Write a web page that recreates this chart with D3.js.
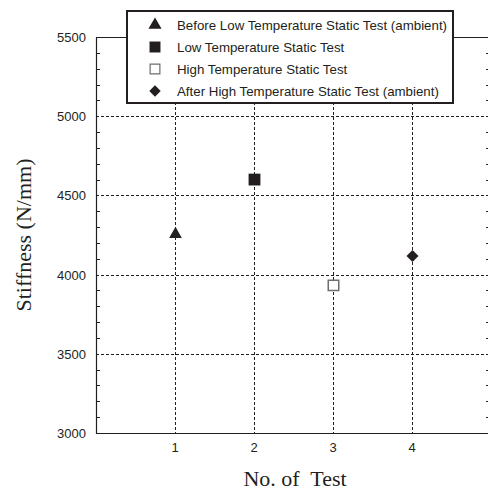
<!DOCTYPE html>
<html lang="en">
<head>
<meta charset="utf-8">
<title>Stiffness per test</title>
<script src="https://cdn.jsdelivr.net/npm/d3@7"></script>
<style>
  body { margin: 0; background: #fff; overflow: hidden; }
  .tick-label { font: 13px "Liberation Sans", Arial, sans-serif; fill: #231f20; }
  .legend text { font: 13.3px "Liberation Sans", Arial, sans-serif; fill: #231f20; }
  .title { font: 22px "Liberation Serif", "Times New Roman", serif; fill: #231f20; }
</style>
</head>
<body>
<div id="chart"></div>
<script>
// data
var tests = [1, 2, 3, 4];
var stiffness = [4255, 4600, 3932, 4117];
var seriesNames = [
  "Before Low Temperature Static Test (ambient)",
  "Low Temperature Static Test",
  "High Temperature Static Test",
  "After High Temperature Static Test (ambient)"
];
var yTicks = [3000, 3500, 4000, 4500, 5000, 5500];
var xTicks = [1, 2, 3, 4];

var width = 488, height = 492;
var margin = {top: 37, right: -3, bottom: 59, left: 96};
var ink = "#231f20";

var svg = d3.select("#chart").append("svg")
  .attr("width", width)
  .attr("height", height)
  .style("display", "block");

var x = d3.scaleLinear().domain([0, 5]).range([margin.left, width - margin.right]);
var y = d3.scaleLinear().domain([3000, 5500]).range([height - margin.bottom, margin.top]);

//grid lines (dotted)
svg.append("g").selectAll("line.gy")
  .data(yTicks.filter(function(d) { return d > 3000 && d < 5500; }))
  .enter().append("line")
  .attr("x1", x(0)).attr("x2", x(5))
  .attr("y1", function(d) { return Math.round(y(d)) + 0.5; })
  .attr("y2", function(d) { return Math.round(y(d)) + 0.5; })
  .attr("stroke", ink).attr("stroke-width", 1)
  .attr("stroke-dasharray", "3,2");

svg.append("g").selectAll("line.gx")
  .data(xTicks)
  .enter().append("line")
  .attr("x1", function(d) { return Math.round(x(d)) + 0.5; })
  .attr("x2", function(d) { return Math.round(x(d)) + 0.5; })
  .attr("y1", y(5500)).attr("y2", y(3000))
  .attr("stroke", ink).attr("stroke-width", 1)
  .attr("stroke-dasharray", "3,2");

//minor ticks every 100 on left and right
var minor = d3.range(3100, 5500, 100).filter(function(d) { return d % 500 !== 0; });
svg.append("g").selectAll("line.ml")
  .data(minor).enter().append("line")
  .attr("x1", x(0)).attr("x2", x(0) + 4)
  .attr("y1", function(d) { return Math.round(y(d)) + 0.5; })
  .attr("y2", function(d) { return Math.round(y(d)) + 0.5; })
  .attr("stroke", ink);
svg.append("g").selectAll("line.mr")
  .data(minor).enter().append("line")
  .attr("x1", x(5)).attr("x2", x(5) - 5)
  .attr("y1", function(d) { return Math.round(y(d)) + 0.5; })
  .attr("y2", function(d) { return Math.round(y(d)) + 0.5; })
  .attr("stroke", ink);

//frame: left, top, bottom (right side runs off the page)
var x0 = Math.round(x(0)) + 0.5,
    yTop = Math.round(y(5500)) + 0.5,
    yBot = Math.round(y(3000)) + 0.5;
svg.append("path")
  .attr("d", "M" + (x(5) + 5) + "," + yTop + "H" + x0 + "V" + yBot + "H" + (x(5) + 5))
  .attr("fill", "none")
  .attr("stroke", ink)
  .attr("stroke-width", 1.2);

//tick labels
svg.append("g").selectAll("text")
  .data(yTicks).enter().append("text")
  .attr("class", "tick-label")
  .attr("x", x(0) - 10)
  .attr("y", function(d) { return y(d) + 5; })
  .attr("text-anchor", "end")
  .text(function(d) { return d; });

svg.append("g").selectAll("text")
  .data(xTicks).enter().append("text")
  .attr("class", "tick-label")
  .attr("x", function(d) { return x(d); })
  .attr("y", y(3000) + 19)
  .attr("text-anchor", "middle")
  .text(function(d) { return d; });

//axis titles
svg.append("text")
  .attr("class", "title")
  .attr("x", 295)
  .attr("y", 486)
  .attr("text-anchor", "middle")
  .attr("xml:space", "preserve")
  .text("No. of  Test");

svg.append("text")
  .attr("class", "title")
  .attr("transform", "translate(31," + ((y(3000) + y(5500)) / 2) + ") rotate(-90)")
  .attr("text-anchor", "middle")
  .text("Stiffness (N/mm)");

//marker shapes
var shapes = [
  {type: d3.symbolTriangle, size: 70, fill: ink, stroke: "none", rot: 0},
  {type: d3.symbolSquare, size: 140, fill: ink, stroke: "none", rot: 0},
  {type: d3.symbolSquare, size: 110, fill: "#fff", stroke: "#6d6e71", rot: 0},
  {type: d3.symbolSquare, size: 72, fill: ink, stroke: "none", rot: 45}
];

svg.append("g").selectAll("path")
  .data(tests).enter().append("path")
  .attr("transform", function(d, i) {
    return "translate(" + (Math.round(x(d)) + 0.5) + "," + y(stiffness[i]) + ") rotate(" + shapes[i].rot + ")";
  })
  .attr("d", function(d, i) { return d3.symbol().type(shapes[i].type).size(shapes[i].size)(); })
  .attr("fill", function(d, i) { return shapes[i].fill; })
  .attr("stroke", function(d, i) { return shapes[i].stroke; })
  .attr("stroke-width", 1.5);

//legend
var legend = svg.append("g").attr("class", "legend");
legend.append("rect")
  .attr("x", 127).attr("y", 11)
  .attr("width", 326).attr("height", 92)
  .attr("fill", "#fff")
  .attr("stroke", ink)
  .attr("stroke-width", 2);

var legendSize = [75, 120, 95, 65];
var rows = legend.selectAll("g.row")
  .data(seriesNames).enter().append("g")
  .attr("transform", function(d, i) { return "translate(0," + (25 + i * 22) + ")"; });

rows.append("path")
  .attr("transform", function(d, i) { return "translate(155,0) rotate(" + shapes[i].rot + ")"; })
  .attr("d", function(d, i) { return d3.symbol().type(shapes[i].type).size(legendSize[i])(); })
  .attr("fill", function(d, i) { return shapes[i].fill; })
  .attr("stroke", function(d, i) { return shapes[i].stroke; })
  .attr("stroke-width", 1.2);

rows.append("text")
  .attr("x", 177)
  .attr("y", 5)
  .text(function(d) { return d; });
</script>
</body>
</html>
